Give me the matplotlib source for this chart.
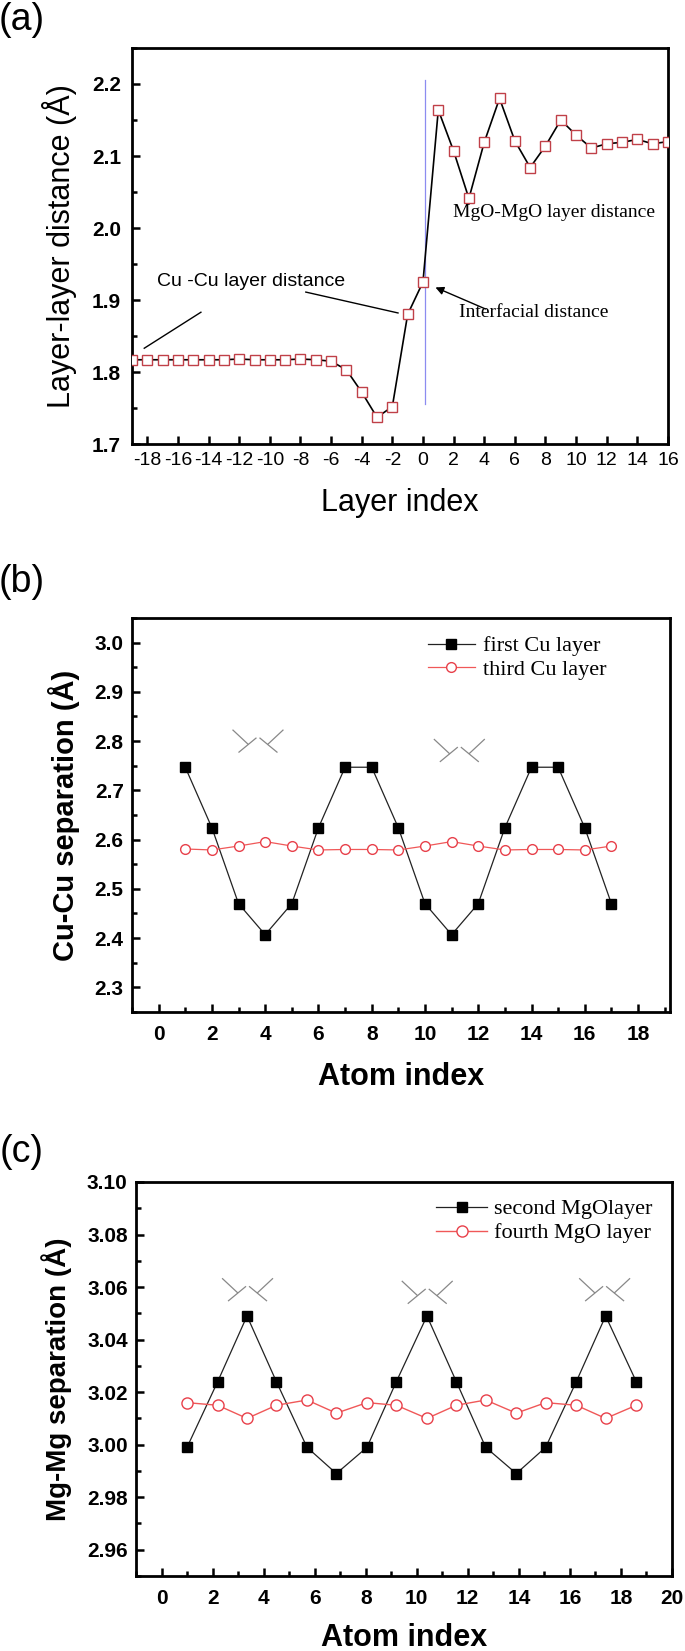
import matplotlib
matplotlib.use('Agg')
import matplotlib.pyplot as plt
from matplotlib.ticker import MultipleLocator

plt.rcParams['font.family'] = ['Liberation Sans', 'DejaVu Sans']
plt.rcParams['axes.unicode_minus'] = False
SERIF = ['Liberation Serif', 'DejaVu Serif']

# ---- data ----
layer_idx = list(range(-19, 17))
layer_dist = [1.817, 1.817, 1.817, 1.817, 1.817, 1.817, 1.817, 1.818, 1.817,
              1.817, 1.817, 1.818, 1.817,
              1.815, 1.803, 1.772, 1.737, 1.752, 1.880,
              1.925, 2.164, 2.107, 2.041, 2.119, 2.180, 2.121, 2.084, 2.114,
              2.150, 2.129, 2.111, 2.117, 2.119, 2.123, 2.117, 2.120]

atom_b = list(range(1, 18))
first_cu = [2.747, 2.624, 2.470, 2.407, 2.470, 2.624, 2.747, 2.747, 2.624,
            2.470, 2.407, 2.470, 2.624, 2.747, 2.747, 2.624, 2.470]
third_cu = [2.581, 2.579, 2.587, 2.596, 2.587, 2.579, 2.580, 2.580, 2.579,
            2.587, 2.596, 2.587, 2.579, 2.580, 2.580, 2.579, 2.587]

atom_c = [1.0, 2.2, 3.35, 4.5, 5.7, 6.85, 8.05, 9.2, 10.4, 11.55, 12.7,
          13.9, 15.05, 16.25, 17.4, 18.6]
second_mgo = [2.999, 3.024, 3.049, 3.024, 2.999, 2.989, 2.999, 3.024, 3.049,
              3.024, 2.999, 2.989, 2.999, 3.024, 3.049, 3.024]
fourth_mgo = [3.016, 3.015, 3.010, 3.015, 3.017, 3.012, 3.016, 3.015, 3.010,
              3.015, 3.017, 3.012, 3.016, 3.015, 3.010, 3.015]

# little bond-angle sketches drawn above the peaks (centres, data coords)
kinks_b = [(3.73, 2.800), (11.29, 2.781)]
kinks_c = [(3.37, 3.059), (10.41, 3.058), (17.36, 3.059)]
# segments of one sketch, pixel offsets from its centre (y pointing down)
KINK_SEGS = [(-25, -11, -10, 3), (-19, 11, -2, -3),
             (25, -11, 10, 3), (19, 11, 2, -3)]

RED = '#e8404a'
W, H = 685, 1651
fig = plt.figure(figsize=(W / 100, H / 100), dpi=100)


def axes_px(l, t, r, b):
    return fig.add_axes([l / W, 1 - b / H, (r - l) / W, (b - t) / H])


def style(ax, size, bold_x=True, pad_x=8, pad_y=6, xsize=None):
    for s in ax.spines.values():
        s.set_linewidth(2.0)
    ax.tick_params(which='both', direction='in', top=False, right=False, width=1.8)
    ax.tick_params(which='major', length=6)
    ax.tick_params(which='minor', length=3.5)
    ax.tick_params(axis='x', pad=pad_x, labelsize=xsize or size)
    ax.tick_params(axis='y', pad=pad_y, labelsize=size)
    for t in ax.get_yticklabels():
        t.set_fontweight('bold')
    if bold_x:
        for t in ax.get_xticklabels():
            t.set_fontweight('bold')


def kink(ax, cx, cy):
    px, py = ax.transData.transform((cx, cy))
    inv = ax.transData.inverted()
    for x0, y0, x1, y1 in KINK_SEGS:
        p0 = inv.transform((px + x0, py - y0))
        p1 = inv.transform((px + x1, py - y1))
        ax.plot([p0[0], p1[0]], [p0[1], p1[1]], color='#888888', lw=0.9)


# ================= (a) =================
ax = axes_px(132, 48, 668, 444)
ax.set_xlim(-19, 16)
ax.set_ylim(1.7, 2.25)
ax.plot(layer_idx, layer_dist, color='black', lw=1.2, marker='s', ms=7,
        mfc='white', mec='#c04048', mew=1.0, zorder=3)
ax.plot([0.1, 0.1], [1.755, 2.205], color='#8c8cf0', lw=0.9, zorder=2)
ax.yaxis.set_minor_locator(MultipleLocator(0.05))
ax.set_yticks([1.7, 1.8, 1.9, 2.0, 2.1, 2.2])
ax.set_xticks(range(-18, 17, 2))
style(ax, 15, bold_x=False, pad_x=6, pad_y=8, xsize=14)
ax.set_xlabel('Layer index', fontsize=22, va='center')
ax.xaxis.set_label_coords(0.5, -0.149)
ax.set_ylabel('Layer-layer distance (Å)', fontsize=22, va='center')
ax.yaxis.set_label_coords(-0.136, 0.5)

ax.text(-11.2, 1.925, 'Cu -Cu layer distance', fontsize=14, ha='center', va='center')
ax.plot([-14.5, -18.2], [1.883, 1.833], color='black', lw=1.0)
ax.plot([-7.65, -1.63], [1.911, 1.882], color='black', lw=1.0)
ax.text(8.56, 2.021, 'MgO-MgO layer distance', fontsize=14, ha='center',
        va='center', family=SERIF)
ax.text(7.2, 1.882, 'Interfacial distance', fontsize=14, ha='center',
        va='center', family=SERIF)
ax.annotate('', xy=(0.65, 1.919), xytext=(4.25, 1.886),
            arrowprops=dict(arrowstyle='-|>', color='black', lw=1.0,
                            mutation_scale=12))
fig.text(22 / W, 1 - 20 / H, '(a)', fontsize=27, ha='center', va='center')

# ================= (b) =================
ax = axes_px(132, 618, 670, 1012)
ax.set_xlim(-1, 19.2)
ax.set_ylim(2.25, 3.05)
ax.plot(atom_b, first_cu, color='#222222', lw=0.9, marker='s', ms=7,
        mfc='black', mec='black', label='first Cu layer', zorder=3)
ax.plot(atom_b, third_cu, color='#f05858', lw=0.9, marker='o', ms=7,
        mfc='white', mec=RED, mew=1.0, label='third Cu layer', zorder=3)
ax.set_xticks(range(0, 19, 2))
ax.xaxis.set_minor_locator(MultipleLocator(1))
ax.set_yticks([2.3, 2.4, 2.5, 2.6, 2.7, 2.8, 2.9, 3.0])
ax.yaxis.set_minor_locator(MultipleLocator(0.05))
style(ax, 15, pad_x=9, pad_y=6)
ax.set_xlabel('Atom index', fontsize=22, fontweight='bold', va='center')
ax.xaxis.set_label_coords(0.5, -0.165)
ax.set_ylabel('Cu-Cu separation (Å)', fontsize=21, fontweight='bold', va='center')
ax.yaxis.set_label_coords(-0.126, 0.5)
ax.legend(loc='upper left', bbox_to_anchor=(0.55, 0.955), frameon=False,
          prop={'family': SERIF, 'size': 16}, handlelength=2.1,
          handletextpad=0.4, labelspacing=0.15, borderpad=0, borderaxespad=0)
for c in kinks_b:
    kink(ax, *c)
fig.text(22 / W, 1 - 582 / H, '(b)', fontsize=27, ha='center', va='center')

# ================= (c) =================
ax = axes_px(136, 1182, 672, 1576)
ax.set_xlim(-1, 20)
ax.set_ylim(2.95, 3.10)
ax.plot(atom_c, second_mgo, color='#222222', lw=0.9, marker='s', ms=7,
        mfc='black', mec='black', label='second MgOlayer', zorder=3)
ax.plot(atom_c, fourth_mgo, color='#f05858', lw=1.0, marker='o', ms=8,
        mfc='white', mec=RED, mew=1.0, label='fourth MgO layer', zorder=3)
ax.set_xticks(range(0, 21, 2))
ax.xaxis.set_minor_locator(MultipleLocator(1))
ax.set_yticks([2.96, 2.98, 3.00, 3.02, 3.04, 3.06, 3.08, 3.10])
ax.set_yticklabels(['%.2f' % v for v in [2.96, 2.98, 3.00, 3.02, 3.04, 3.06, 3.08, 3.10]])
ax.yaxis.set_minor_locator(MultipleLocator(0.01))
style(ax, 15, pad_x=9, pad_y=6)
ax.set_xlabel('Atom index', fontsize=22, fontweight='bold', va='center')
ax.xaxis.set_label_coords(0.5, -0.157)
ax.set_ylabel('Mg-Mg separation (Å)', fontsize=20, fontweight='bold', va='center')
ax.yaxis.set_label_coords(-0.149, 0.5)
ax.legend(loc='upper left', bbox_to_anchor=(0.56, 0.957), frameon=False,
          prop={'family': SERIF, 'size': 16}, handlelength=2.3,
          handletextpad=0.3, labelspacing=0.15, borderpad=0, borderaxespad=0)
for c in kinks_c:
    kink(ax, *c)
fig.text(22 / W, 1 - 1152 / H, '(c)', fontsize=27, ha='center', va='center')

fig.savefig('out.png', dpi=100, facecolor='white')
